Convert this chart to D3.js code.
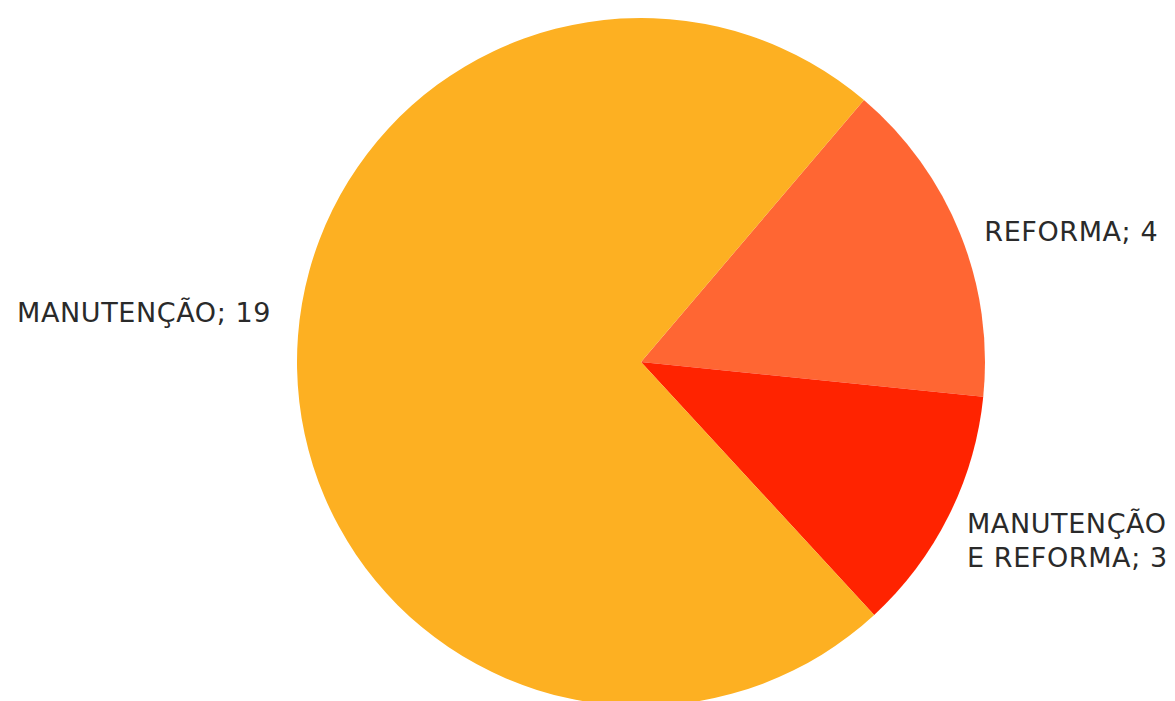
<!DOCTYPE html>
<html>
<head>
<meta charset="utf-8">
<script src="https://cdn.jsdelivr.net/npm/d3@7"></script>
<style>
  html, body { margin: 0; padding: 0; background: #fff; }
  svg { display: block; }
</style>
</head>
<body>
<div id="vis"></div>
<script>
// data
const categories = ["REFORMA", "MANUTENÇÃO E REFORMA", "MANUTENÇÃO"];
const labelLines = [["REFORMA; 4"], ["MANUTENÇÃO", "E REFORMA; 3"], ["MANUTENÇÃO; 19"]];
const values = [4, 3, 19];
const colors = ["#FF6633", "#FF2300", "#FDB022"];

////////////////////////////////////////
/////////////// Options ////////////////
////////////////////////////////////////
const options = {
  width: 1175,
  height: 701,
  cx: 641,
  cy: 362,
  radius: 344,
  startDeg: 40.4,
  labelGap: 26,
  fontSize: 27,
  letterSpacing: 0.6,
  lineHeight: 34,
};
// per-label nudges (px)
const nudgeX = [0, -5, 0];
const nudgeY = [8, 13, -57];

const svg = d3.select("#vis")
  .append("svg")
  .attr("width", options.width)
  .attr("height", options.height);

const g = svg.append("g")
  .attr("transform", `translate(${options.cx},${options.cy})`);

const start = options.startDeg * Math.PI / 180;
const pie = d3.pie()
  .sort(null)
  .value((d) => d)
  .startAngle(start)
  .endAngle(start + 2 * Math.PI);

const arcs = pie(values);

const arc = d3.arc().innerRadius(0).outerRadius(options.radius);

g.selectAll("path")
  .data(arcs)
  .join("path")
  .attr("d", arc)
  .attr("fill", (d, i) => colors[i]);

// outside labels
const labelArc = d3.arc()
  .innerRadius(options.radius + options.labelGap)
  .outerRadius(options.radius + options.labelGap);

const labels = g.selectAll("text.lbl")
  .data(arcs)
  .join("text")
  .attr("class", "lbl")
  .attr("font-family", "'DejaVu Sans', Verdana, sans-serif")
  .attr("font-size", options.fontSize)
  .attr("letter-spacing", options.letterSpacing)
  .attr("fill", "#2a2a2a")
  .attr("text-anchor", (d) => ((d.startAngle + d.endAngle) / 2 % (2 * Math.PI)) < Math.PI ? "start" : "end")
  .attr("transform", (d, i) => {
    const [x, y] = labelArc.centroid(d);
    const n = labelLines[i].length;
    return `translate(${x + nudgeX[i]},${y + nudgeY[i] - (n - 1) * options.lineHeight / 2})`;
  });

labels.selectAll("tspan")
  .data((d, i) => labelLines[i])
  .join("tspan")
  .attr("x", 0)
  .attr("dy", (d, j) => j === 0 ? "0.35em" : options.lineHeight)
  .text((d) => d);
</script>
</body>
</html>
